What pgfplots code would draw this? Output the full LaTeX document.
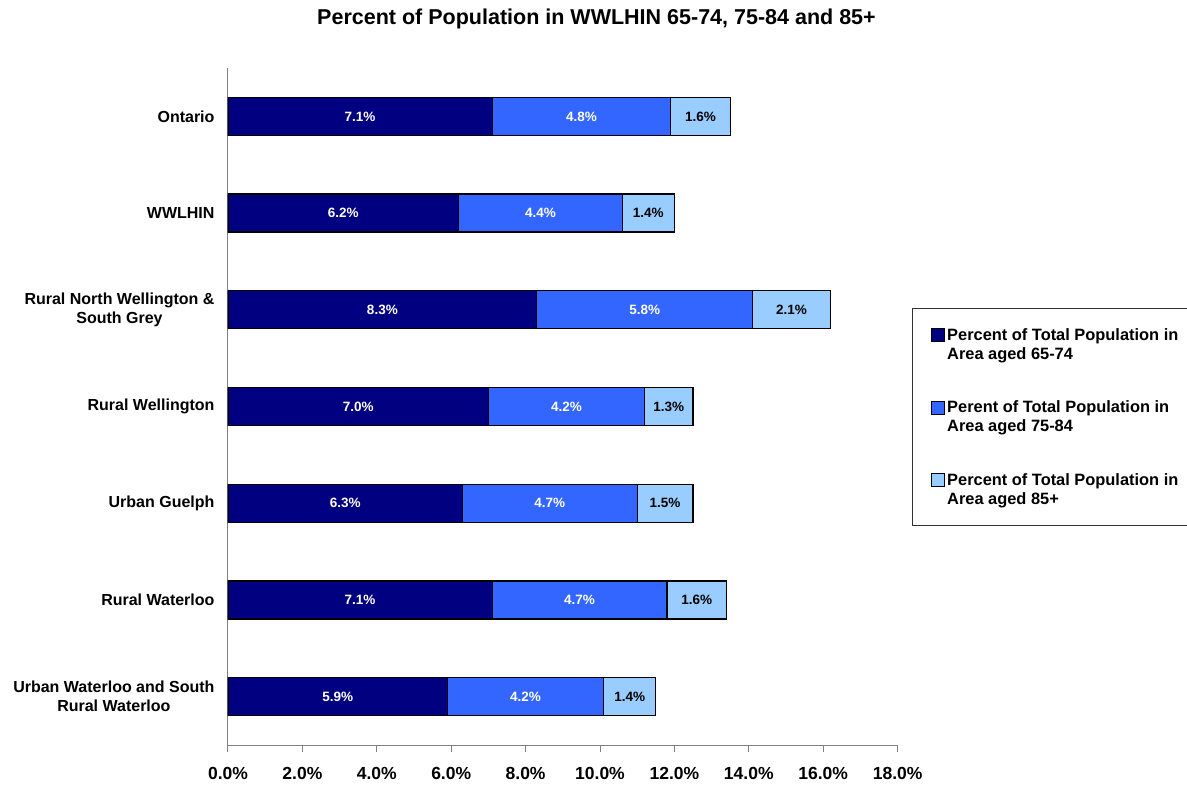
\documentclass[border=0pt]{standalone}
\usepackage{pgfplots}
\pgfplotsset{compat=1.18}
\usepackage{pgfplotstable}
\usepackage{fontspec}
\setmainfont{Liberation Sans}
\definecolor{navyc}{RGB}{0,0,128}
\definecolor{bluec}{RGB}{51,102,255}
\definecolor{lightc}{RGB}{153,204,255}
\definecolor{axisgray}{RGB}{128,128,128}
\pgfplotstableread{
y a b c
0 7.1 4.8 1.6
1 6.2 4.4 1.4
2 8.3 5.8 2.1
3 7.0 4.2 1.3
4 6.3 4.7 1.5
5 7.1 4.7 1.6
6 5.9 4.2 1.4
}\data
\pgfplotsset{
  mybar/.style={xbar, bar width=38pt, bar shift=0pt, draw=black, line width=1.2pt,
    legend image code/.code={\draw[##1, line width=0.8pt] (0pt,3pt) rectangle (13pt,16pt);}},
  mylab/.style={draw=none, mark=none, forget plot, point meta=explicit,
    nodes near coords={\pgfmathprintnumber[fixed,zerofill,precision=1]{\pgfplotspointmeta}\%},
    every node near coord/.append style={anchor=center, text=#1, font=\fontsize{13.5}{16}\selectfont\bfseries}},
}
\begin{document}
\begin{tikzpicture}
\useasboundingbox (0,0) rectangle (1187pt,787pt);
\node[font=\fontsize{21.5}{25}\selectfont\bfseries] at (596.5pt,768pt) {Percent of Population in WWLHIN 65-74, 75-84 and 85+};
\begin{axis}[
  at={(228pt,42pt)}, anchor=south west,
  scale only axis, width=669.6pt, height=677pt,
  xmin=0, xmax=18, ymin=-0.5, ymax=6.5, y dir=reverse,
  axis lines*=left,
  axis line style={draw=axisgray, line width=1pt},
  xtick={0,2,...,18},
  xticklabel={\pgfmathprintnumber[fixed,zerofill,precision=1]{\tick}\%},
  /pgf/number format/assume math mode=true,
  tick align=outside, major tick length=7pt,
  xtick style={draw=axisgray, line width=1pt},
  ytick style={draw=none},
  ytick={0,...,6},
  yticklabels={Ontario, WWLHIN, {Rural North Wellington \&\\South Grey}, Rural Wellington, Urban Guelph, Rural Waterloo, {Urban Waterloo and South\\Rural Waterloo}},
  yticklabel style={align=center, font=\fontsize{16}{19}\selectfont\bfseries, xshift=-3pt},
  xticklabel style={font=\fontsize{17.5}{21}\selectfont\bfseries, yshift=-12pt},
  reverse legend,
  legend cell align=left,
  legend style={at={(1.0215,0.6455)}, anchor=north west, draw=black!80, line width=0.8pt,
    font=\fontsize{16.4}{19}\selectfont\bfseries, row sep=36pt, inner xsep=19pt, inner ysep=18pt,
    nodes={align=left, inner sep=2pt}},
]
\addplot[mybar, fill=lightc] table[x expr=\thisrow{a}+\thisrow{b}+\thisrow{c}, y=y]{\data};
\addlegendentry{Percent of Total Population in\\Area aged 85+}
\addplot[mybar, fill=bluec] table[x expr=\thisrow{a}+\thisrow{b}, y=y]{\data};
\addlegendentry{Perent of Total Population in\\Area aged 75-84}
\addplot[mybar, fill=navyc] table[x=a, y=y]{\data};
\addlegendentry{Percent of Total Population in\\Area aged 65-74}
\addplot[mylab=white] table[x expr=\thisrow{a}/2, y=y, meta=a]{\data};
\addplot[mylab=white] table[x expr=\thisrow{a}+\thisrow{b}/2, y=y, meta=b]{\data};
\addplot[mylab=black] table[x expr=\thisrow{a}+\thisrow{b}+\thisrow{c}/2, y=y, meta=c]{\data};
\end{axis}
\end{tikzpicture}
\end{document}
